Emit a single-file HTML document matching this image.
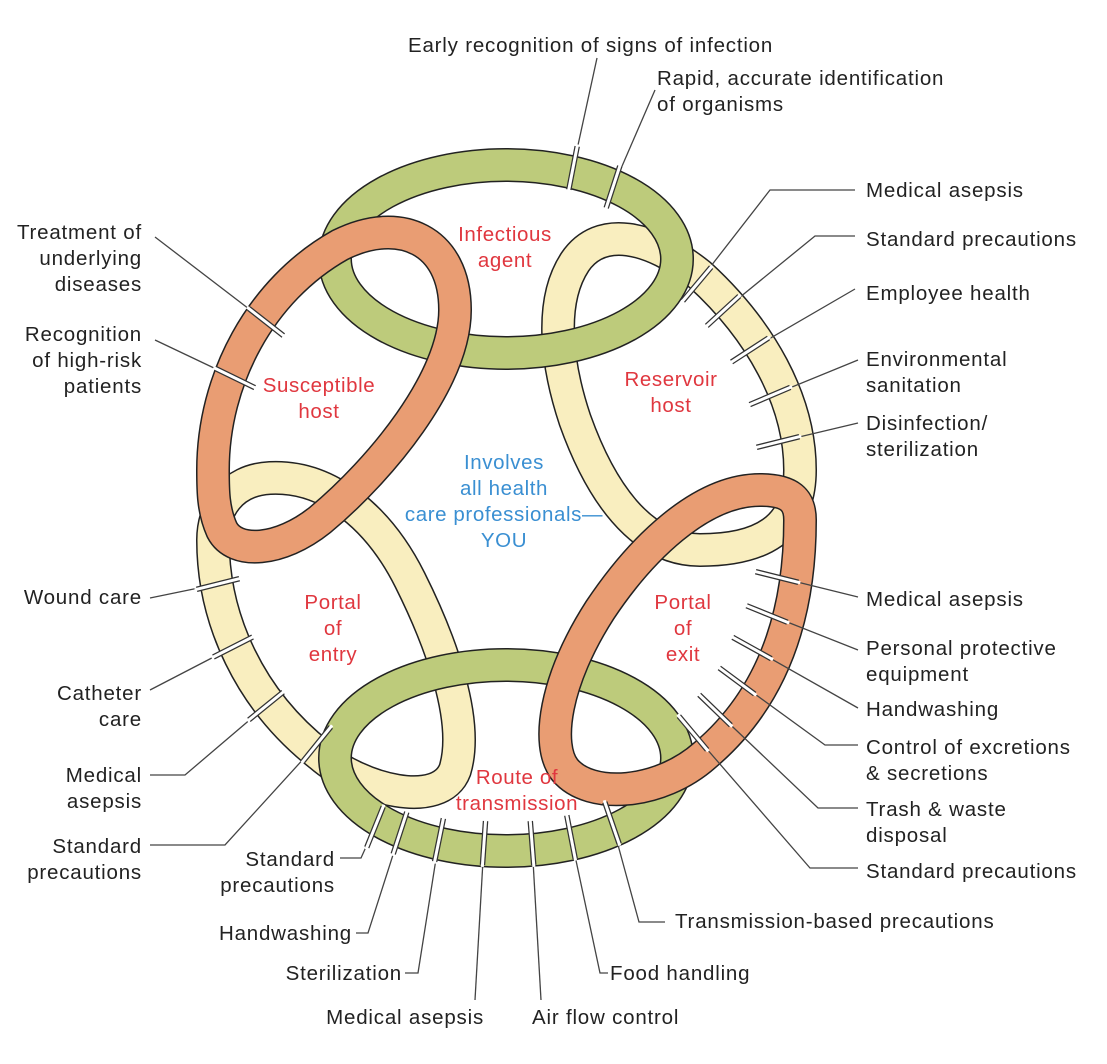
<!DOCTYPE html>
<html><head><meta charset="utf-8"><style>
html,body{margin:0;padding:0;background:#fff;}
svg{display:block;}
text{font-family:"Liberation Sans",Arial,sans-serif;font-size:20.5px;letter-spacing:0.8px;fill:#222;}
.r{fill:#e0373f;text-anchor:middle;letter-spacing:0.6px;}
.b{fill:#3a8fd2;text-anchor:middle;letter-spacing:0.6px;}
.e{text-anchor:end;}
</style></head><body>
<svg width="1107" height="1064" viewBox="0 0 1107 1064" xmlns="http://www.w3.org/2000/svg">
<defs>
<g id="tk"><line x1="-22" y1="0" x2="22" y2="0" stroke="#333" stroke-width="5.5"/><line x1="-24" y1="0" x2="24" y2="0" stroke="#fff" stroke-width="3"/></g>
</defs>
<g fill="none" stroke-linejoin="round">
<path d="M213,540 C213,620 250,700 320,755 C360,790 440,810 455,770 C470,720 440,640 410,580 C380,520 330,475 270,478 C230,480 213,510 213,540 Z" stroke="#222" stroke-width="34"/>
<path d="M213,540 C213,620 250,700 320,755 C360,790 440,810 455,770 C470,720 440,640 410,580 C380,520 330,475 270,478 C230,480 213,510 213,540 Z" stroke="#f9eebf" stroke-width="31"/>
<path d="M700,275 C760,330 800,400 800,470 C800,530 760,550 700,550 C640,550 600,490 575,420 C555,360 550,300 575,262 C600,225 650,235 700,275 Z" stroke="#222" stroke-width="34"/>
<path d="M700,275 C760,330 800,400 800,470 C800,530 760,550 700,550 C640,550 600,490 575,420 C555,360 550,300 575,262 C600,225 650,235 700,275 Z" stroke="#f9eebf" stroke-width="31"/>
<ellipse cx="506" cy="259" rx="171" ry="94" stroke="#222" stroke-width="34"/>
<ellipse cx="506" cy="259" rx="171" ry="94" stroke="#bdcb7b" stroke-width="31"/>
<ellipse cx="506" cy="758" rx="171" ry="93" stroke="#222" stroke-width="34"/>
<ellipse cx="506" cy="758" rx="171" ry="93" stroke="#bdcb7b" stroke-width="31"/>
<path d="M213,470 C213,380 260,290 340,245 C400,215 455,240 455,310 C455,380 380,470 320,520 C280,552 235,555 222,530 C213,510 213,490 213,470 Z" stroke="#222" stroke-width="34"/>
<path d="M213,470 C213,380 260,290 340,245 C400,215 455,240 455,310 C455,380 380,470 320,520 C280,552 235,555 222,530 C213,510 213,490 213,470 Z" stroke="#e99d73" stroke-width="31"/>
<path d="M800,520 C800,620 770,700 705,755 C660,795 590,800 565,770 C545,745 555,680 600,610 C640,550 700,490 760,490 C790,490 800,500 800,520 Z" stroke="#222" stroke-width="34"/>
<path d="M800,520 C800,620 770,700 705,755 C660,795 590,800 565,770 C545,745 555,680 600,610 C640,550 700,490 760,490 C790,490 800,500 800,520 Z" stroke="#e99d73" stroke-width="31"/>
</g>
<g stroke="#444" stroke-width="1.3" fill="none">
<polyline points="597,58 573,168"/>
<polyline points="655,90 613,187"/>
<polyline points="697,284 770,190 855,190"/>
<polyline points="723,311 815,236 855,236"/>
<polyline points="750,350 855,289"/>
<polyline points="770,396 858,360"/>
<polyline points="778,442 858,423"/>
<polyline points="777,577 858,597"/>
<polyline points="767,614 858,650"/>
<polyline points="752,648 858,708"/>
<polyline points="737,681 825,745 858,745"/>
<polyline points="715,710 818,808 858,808"/>
<polyline points="693,733 810,868 858,868"/>
<polyline points="375,827 361,858 340,858"/>
<polyline points="400,833 368,933 356,933"/>
<polyline points="439,840 418,973 405,973"/>
<polyline points="484,843 475,1000"/>
<polyline points="532,843 541,1000"/>
<polyline points="571,837 600,973 608,973"/>
<polyline points="612,823 639,922 665,922"/>
<polyline points="266,322 155,237"/>
<polyline points="235,378 155,340"/>
<polyline points="218,584 150,598"/>
<polyline points="233,647 150,690"/>
<polyline points="266,706 185,775 150,775"/>
<polyline points="317,744 225,845 150,845"/>
</g>
<use href="#tk" transform="translate(573,168) rotate(-79)"/>
<use href="#tk" transform="translate(613,187) rotate(-72)"/>
<use href="#tk" transform="translate(697,284) rotate(-50)"/>
<use href="#tk" transform="translate(723,311) rotate(-42.5)"/>
<use href="#tk" transform="translate(750,350) rotate(-33)"/>
<use href="#tk" transform="translate(770,396) rotate(-23)"/>
<use href="#tk" transform="translate(778,442) rotate(-14)"/>
<use href="#tk" transform="translate(777,577) rotate(14)"/>
<use href="#tk" transform="translate(767,614) rotate(22)"/>
<use href="#tk" transform="translate(752,648) rotate(29)"/>
<use href="#tk" transform="translate(737,681) rotate(36.5)"/>
<use href="#tk" transform="translate(715,710) rotate(44)"/>
<use href="#tk" transform="translate(693,733) rotate(50)"/>
<use href="#tk" transform="translate(375,827) rotate(112)"/>
<use href="#tk" transform="translate(400,833) rotate(108)"/>
<use href="#tk" transform="translate(439,840) rotate(101.5)"/>
<use href="#tk" transform="translate(484,843) rotate(94)"/>
<use href="#tk" transform="translate(532,843) rotate(85.5)"/>
<use href="#tk" transform="translate(571,837) rotate(79)"/>
<use href="#tk" transform="translate(612,823) rotate(71)"/>
<use href="#tk" transform="translate(266,322) rotate(218)"/>
<use href="#tk" transform="translate(235,378) rotate(206)"/>
<use href="#tk" transform="translate(218,584) rotate(166)"/>
<use href="#tk" transform="translate(233,647) rotate(153)"/>
<use href="#tk" transform="translate(266,706) rotate(141)"/>
<use href="#tk" transform="translate(317,744) rotate(129)"/>
<text class="r" x="505" y="241">Infectious</text><text class="r" x="505" y="267">agent</text>
<text class="r" x="319" y="392">Susceptible</text><text class="r" x="319" y="418">host</text>
<text class="r" x="671" y="386">Reservoir</text><text class="r" x="671" y="412">host</text>
<text class="r" x="333" y="609">Portal</text><text class="r" x="333" y="635">of</text><text class="r" x="333" y="661">entry</text>
<text class="r" x="683" y="609">Portal</text><text class="r" x="683" y="635">of</text><text class="r" x="683" y="661">exit</text>
<text class="r" x="517" y="784">Route of</text><text class="r" x="517" y="810">transmission</text>
<text class="b" x="504" y="469">Involves</text><text class="b" x="504" y="495">all health</text>
<text class="b" x="504" y="521">care professionals—</text><text class="b" x="504" y="547">YOU</text>
<text x="408" y="52">Early recognition of signs of infection</text>
<text x="657" y="85">Rapid, accurate identification</text><text x="657" y="111">of organisms</text>
<text x="866" y="197">Medical asepsis</text>
<text x="866" y="246">Standard precautions</text>
<text x="866" y="300">Employee health</text>
<text x="866" y="366">Environmental</text><text x="866" y="392">sanitation</text>
<text x="866" y="430">Disinfection/</text><text x="866" y="456">sterilization</text>
<text x="866" y="606">Medical asepsis</text>
<text x="866" y="655">Personal protective</text><text x="866" y="681">equipment</text>
<text x="866" y="716">Handwashing</text>
<text x="866" y="754">Control of excretions</text><text x="866" y="780">&amp; secretions</text>
<text x="866" y="816">Trash &amp; waste</text><text x="866" y="842">disposal</text>
<text x="866" y="878">Standard precautions</text>
<text class="e" x="142" y="239">Treatment of</text><text class="e" x="142" y="265">underlying</text><text class="e" x="142" y="291">diseases</text>
<text class="e" x="142" y="341">Recognition</text><text class="e" x="142" y="367">of high-risk</text><text class="e" x="142" y="393">patients</text>
<text class="e" x="142" y="604">Wound care</text>
<text class="e" x="142" y="700">Catheter</text><text class="e" x="142" y="726">care</text>
<text class="e" x="142" y="782">Medical</text><text class="e" x="142" y="808">asepsis</text>
<text class="e" x="142" y="853">Standard</text><text class="e" x="142" y="879">precautions</text>
<text class="e" x="335" y="866">Standard</text><text class="e" x="335" y="892">precautions</text>
<text class="e" x="352" y="940">Handwashing</text>
<text class="e" x="402" y="980">Sterilization</text>
<text class="e" x="484" y="1024">Medical asepsis</text>
<text x="532" y="1024">Air flow control</text>
<text x="610" y="980">Food handling</text>
<text x="675" y="928">Transmission-based precautions</text>
</svg>
</body></html>
